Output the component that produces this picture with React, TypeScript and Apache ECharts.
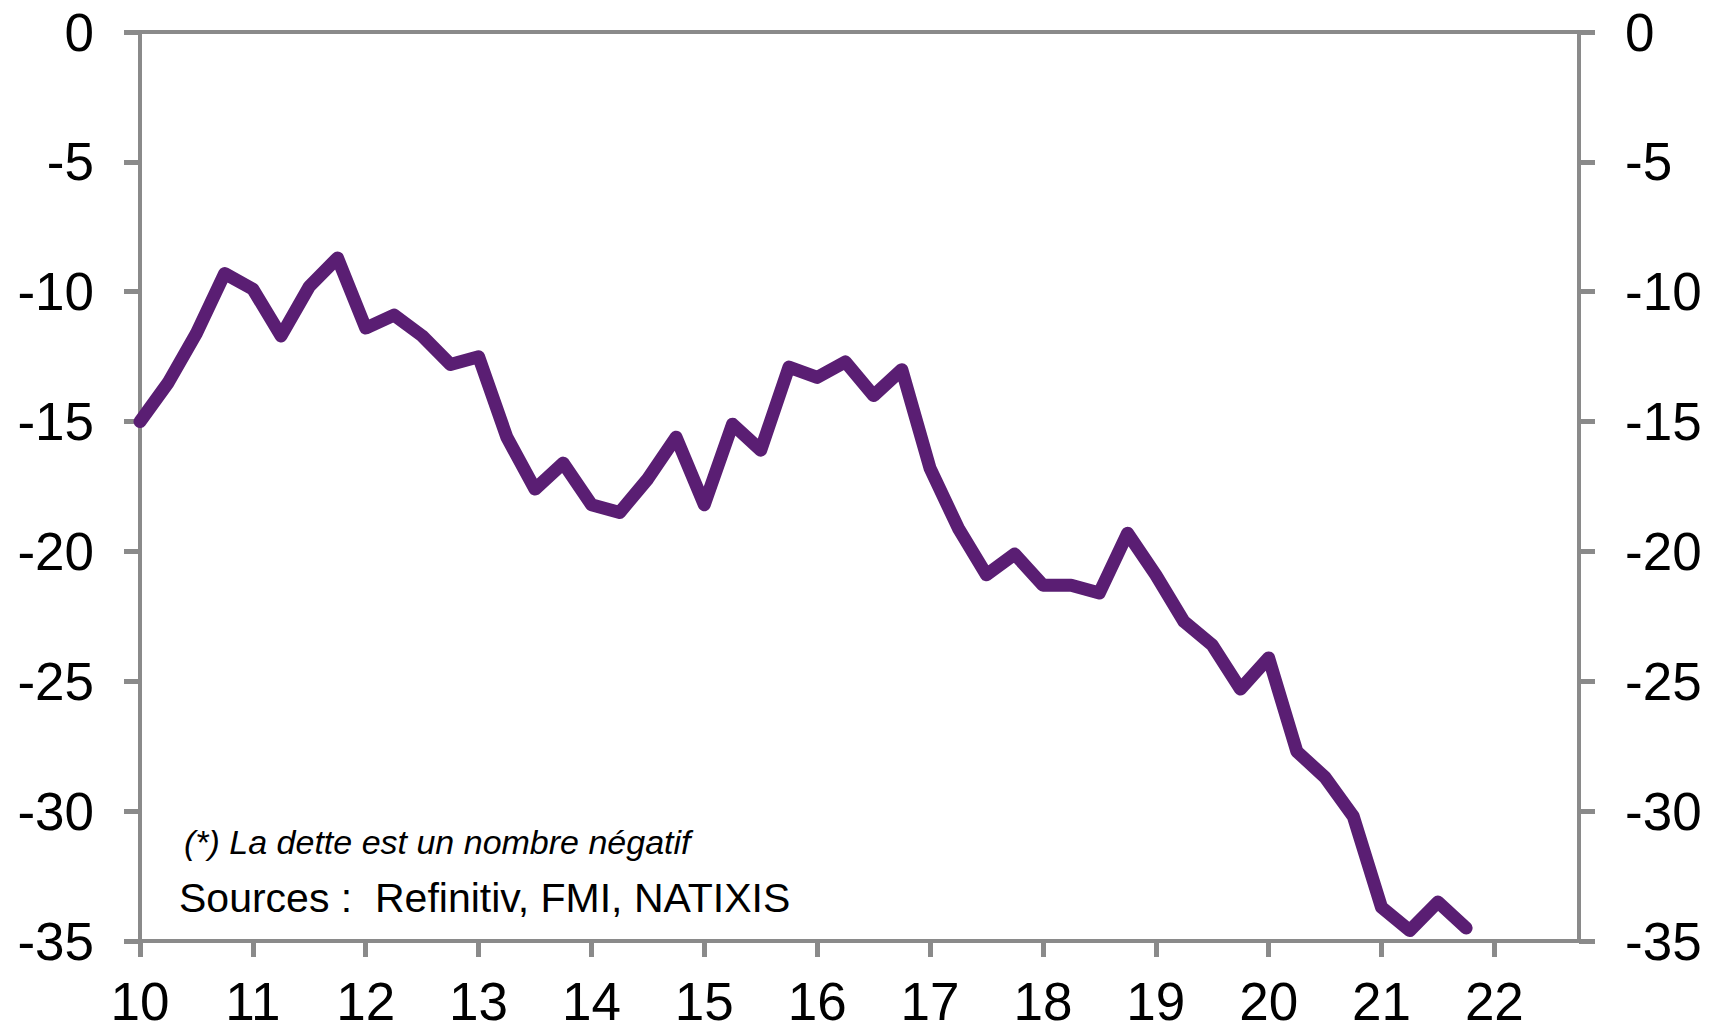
import React, { useEffect, useRef } from "react";
import * as echarts from "echarts";

// Quarterly observations (year offsets, 2010 = 10)
const quarters = [
  10, 10.25, 10.5, 10.75, 11, 11.25, 11.5, 11.75,
  12, 12.25, 12.5, 12.75, 13, 13.25, 13.5, 13.75,
  14, 14.25, 14.5, 14.75, 15, 15.25, 15.5, 15.75,
  16, 16.25, 16.5, 16.75, 17, 17.25, 17.5, 17.75,
  18, 18.25, 18.5, 18.75, 19, 19.25, 19.5, 19.75,
  20, 20.25, 20.5, 20.75, 21, 21.25, 21.5, 21.75,
];

const values = [
  -15.0, -13.5, -11.6, -9.3, -9.9, -11.7, -9.8, -8.7,
  -11.4, -10.9, -11.7, -12.8, -12.5, -15.6, -17.6, -16.6,
  -18.2, -18.5, -17.2, -15.6, -18.2, -15.1, -16.1, -12.9,
  -13.3, -12.7, -14.0, -13.0, -16.8, -19.1, -20.9, -20.1,
  -21.3, -21.3, -21.6, -19.3, -20.9, -22.7, -23.6, -25.3,
  -24.1, -27.7, -28.7, -30.2, -33.7, -34.6, -33.5, -34.5,
];

const xTickLabels = [10, 11, 12, 13, 14, 15, 16, 17, 18, 19, 20, 21, 22];
const yTicks = [0, -5, -10, -15, -20, -25, -30, -35];

const noteText = "(*) La dette est un nombre négatif";
const sourceText = "Sources :  Refinitiv, FMI, NATIXIS";

const FONT = "'Liberation Sans', Arial, Helvetica, sans-serif";
const AXIS_GRAY = "#8a8a8a";
const LINE_COLOR = "#5a1e73";

export default function App() {
  const ref = useRef<HTMLDivElement>(null);

  useEffect(() => {
    if (!ref.current) return;
    const chart = echarts.init(ref.current, undefined, { renderer: "svg" });

    const yAxisCommon = {
      type: "value" as const,
      min: -35,
      max: 0,
      interval: 5,
      axisLine: { show: true, lineStyle: { color: AXIS_GRAY, width: 4 } },
      axisTick: { show: true, length: 16, inside: false, lineStyle: { color: AXIS_GRAY, width: 5 } },
      axisLabel: {
        show: true,
        fontSize: 53,
        lineHeight: 53,
        fontFamily: FONT,
        color: "#000",
        margin: 46,
        customValues: yTicks,
      },
      splitLine: { show: false },
    };

    chart.setOption({
      animation: false,
      backgroundColor: "#ffffff",
      grid: {
        left: 140,
        right: 137,
        top: 32,
        bottom: 89,
        containLabel: false,
        show: true,
        borderColor: AXIS_GRAY,
        borderWidth: 4,
        backgroundColor: "transparent",
      },
      xAxis: {
        type: "value",
        min: 10,
        max: 22.75,
        interval: 1,
        axisLine: { show: true, onZero: false, lineStyle: { color: AXIS_GRAY, width: 4 } },
        axisTick: {
          show: true,
          length: 16,
          inside: false,
          customValues: xTickLabels,
          lineStyle: { color: AXIS_GRAY, width: 5 },
        },
        axisLabel: {
          show: true,
          fontSize: 53,
          lineHeight: 52,
          fontFamily: FONT,
          color: "#000",
          margin: 34,
          customValues: xTickLabels,
          formatter: (v: number) => (Number.isInteger(v) ? String(v) : ""),
        },
        splitLine: { show: false },
      },
      yAxis: [
        { ...yAxisCommon, position: "left" },
        { ...yAxisCommon, position: "right" },
      ],
      series: [
        {
          type: "line",
          yAxisIndex: 0,
          data: quarters.map((q, i) => [q, values[i]]),
          showSymbol: false,
          symbol: "none",
          clip: false,
          lineStyle: { color: LINE_COLOR, width: 13, cap: "round", join: "round" },
        },
      ],
      graphic: [
        {
          type: "text",
          left: 184,
          top: 825,
          style: {
            text: noteText,
            font: `italic 34px ${FONT}`,
            fill: "#000",
          },
        },
        {
          type: "text",
          left: 179,
          top: 877,
          style: {
            text: sourceText,
            font: `41px ${FONT}`,
            fill: "#000",
          },
        },
      ],
    });

    return () => {
      chart.dispose();
    };
  }, []);

  return (
    <div
      ref={ref}
      style={{ position: "fixed", left: 0, top: 0, width: 1716, height: 1030, background: "#fff" }}
    />
  );
}
